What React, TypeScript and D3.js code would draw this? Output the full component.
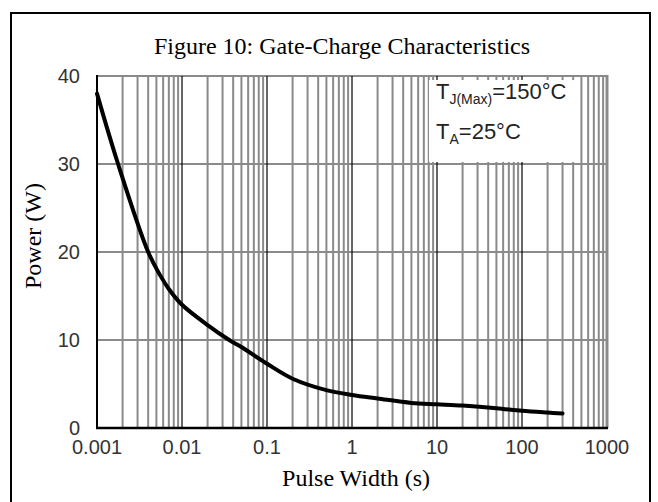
import React, { useEffect, useRef } from "react";
import * as d3 from "d3";

// pulse width (s) and power (W)
const pulseWidth = [0.001, 0.00177, 0.004, 0.0055, 0.007, 0.01, 0.02, 0.036, 0.05, 0.1, 0.2, 0.5, 1, 2, 5, 10, 20, 50, 100, 200, 300];
const power = [38, 30, 20, 17.4, 15.8, 14, 11.7, 10, 9.2, 7.3, 5.6, 4.3, 3.75, 3.35, 2.85, 2.7, 2.55, 2.25, 1.95, 1.75, 1.65];

const xTicks = [0.001, 0.01, 0.1, 1, 10, 100, 1000];
const xTickLabels = ["0.001", "0.01", "0.1", "1", "10", "100", "1000"];
const yTicks = [0, 10, 20, 30, 40];

const title = "Figure 10: Gate-Charge Characteristics";
const xTitle = "Pulse Width (s)";
const yTitle = "Power (W)";

export default function App() {
  const ref = useRef<SVGSVGElement>(null);

  useEffect(() => {
    const width = 658, height = 502;
    const svg = d3.select(ref.current);
    svg.selectAll("*").remove();

    const x = d3.scaleLog().domain([0.001, 1000]).range([97, 607]);
    const y = d3.scaleLinear().domain([0, 40]).range([428, 76]);
    const serif = "'Liberation Serif', 'Times New Roman', serif";
    const sans = "'Liberation Sans', Arial, sans-serif";

    svg.append("rect").attr("width", width).attr("height", height).attr("fill", "white");

    // outer frame
    svg.append("rect")
      .attr("x", 11).attr("y", 13)
      .attr("width", 639).attr("height", 500)
      .attr("fill", "none").attr("stroke", "black").attr("stroke-width", 2);

    svg.append("text")
      .attr("x", 342).attr("y", 54)
      .attr("text-anchor", "middle")
      .style("font-family", serif).style("font-size", "24px")
      .text(title);

    // minor grid (2..9 of each decade)
    const minor: number[] = [];
    for (let e = -3; e < 3; e++) {
      for (let k = 2; k <= 9; k++) minor.push(k * Math.pow(10, e));
    }
    const grid = svg.append("g");
    grid.selectAll("line.minor")
      .data(minor)
      .enter()
      .append("line")
      .attr("x1", d => x(d)).attr("x2", d => x(d))
      .attr("y1", y(40)).attr("y2", y(0))
      .attr("stroke", "#8a8a8a").attr("stroke-width", 2);

    grid.selectAll("line.h")
      .data(yTicks.slice(1))
      .enter()
      .append("line")
      .attr("x1", x(0.001)).attr("x2", x(1000))
      .attr("y1", d => y(d)).attr("y2", d => y(d))
      .attr("stroke", "#8a8a8a").attr("stroke-width", 2);

    // decade lines
    grid.selectAll("line.major")
      .data(xTicks.slice(1, -1))
      .enter()
      .append("line")
      .attr("x1", d => x(d)).attr("x2", d => x(d))
      .attr("y1", y(40)).attr("y2", y(0))
      .attr("stroke", "black").attr("stroke-width", 1.2);

    grid.append("line")
      .attr("x1", x(1000)).attr("x2", x(1000))
      .attr("y1", y(40) - 1).attr("y2", y(0))
      .attr("stroke", "#8a8a8a").attr("stroke-width", 3);

    // annotation box hides the grid behind it
    svg.append("rect")
      .attr("x", 429).attr("y", 80)
      .attr("width", 149).attr("height", 82)
      .attr("fill", "white");

    const note = svg.append("g").style("font-family", sans).attr("fill", "#222");
    const t1 = note.append("text").attr("x", 436).attr("y", 99).style("font-size", "22px");
    t1.append("tspan").text("T");
    t1.append("tspan").attr("dy", 5).style("font-size", "14px").text("J(Max)");
    t1.append("tspan").attr("dy", -5).text("=150°C");
    const t2 = note.append("text").attr("x", 436).attr("y", 139).style("font-size", "22px");
    t2.append("tspan").text("T");
    t2.append("tspan").attr("dy", 5).style("font-size", "14px").text("A");
    t2.append("tspan").attr("dy", -5).text("=25°C");

    // axes
    svg.append("line")
      .attr("x1", x(0.001)).attr("x2", x(0.001))
      .attr("y1", y(40) - 1).attr("y2", y(0) + 1)
      .attr("stroke", "black").attr("stroke-width", 2);
    svg.append("line")
      .attr("x1", x(0.001) - 1).attr("x2", x(1000) + 1)
      .attr("y1", y(0)).attr("y2", y(0))
      .attr("stroke", "black").attr("stroke-width", 2.5);

    svg.selectAll("text.xt")
      .data(xTicks)
      .enter()
      .append("text")
      .attr("x", d => x(d)).attr("y", 454)
      .attr("text-anchor", "middle")
      .attr("fill", "#333")
      .style("font-family", sans).style("font-size", "20px")
      .text((d, i) => xTickLabels[i]);

    svg.selectAll("text.yt")
      .data(yTicks)
      .enter()
      .append("text")
      .attr("x", 80).attr("y", d => y(d) + 7)
      .attr("text-anchor", "end")
      .attr("fill", "#333")
      .style("font-family", sans).style("font-size", "20px")
      .text(d => d);

    svg.append("text")
      .attr("x", 356).attr("y", 486)
      .attr("text-anchor", "middle")
      .style("font-family", serif).style("font-size", "24px")
      .text(xTitle);

    svg.append("text")
      .attr("transform", "translate(41,236) rotate(-90)")
      .attr("text-anchor", "middle")
      .style("font-family", serif).style("font-size", "24px")
      .text(yTitle);

    // the curve
    const line = d3.line<number>()
      .x((d, i) => x(pulseWidth[i]))
      .y(d => y(d))
      .curve(d3.curveCatmullRom.alpha(0.5));
    svg.append("path")
      .datum(power)
      .attr("d", line)
      .attr("fill", "none")
      .attr("stroke", "black")
      .attr("stroke-width", 4)
      .attr("stroke-linecap", "round")
      .attr("stroke-linejoin", "round");
  }, []);

  return (
    <svg ref={ref} width={658} height={502}
      style={{ position: "absolute", left: 0, top: 0 }} />
  );
}
